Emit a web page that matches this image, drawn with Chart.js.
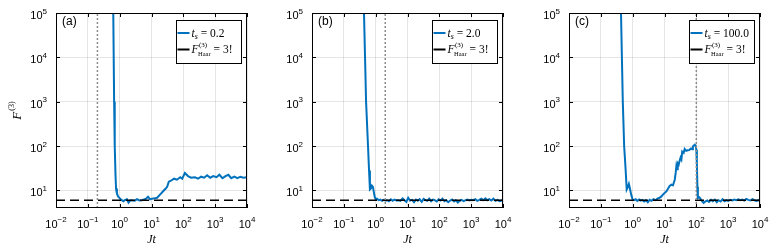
<!DOCTYPE html>
<html>
<head>
<meta charset="utf-8">
<script src="https://cdn.jsdelivr.net/npm/chart.js@4.4.0/dist/chart.umd.min.js"></script>
<style>
  body { margin: 0; background: #fff; width: 777px; height: 247px; position: relative; overflow: hidden; }
  .panel { position: absolute; top: 0; }
</style>
</head>
<body>
<canvas id="panelA" class="panel" style="left:0" width="275" height="247"></canvas>
<canvas id="panelB" class="panel" style="left:256px" width="275" height="247"></canvas>
<canvas id="panelC" class="panel" style="left:513px" width="275" height="247"></canvas>
<script>
// ---- data ----
const jtA = [0.55, 0.63, 0.67, 0.70, 0.74, 0.77, 0.82, 0.89, 1.0, 1.1,
  1.3, 1.5, 1.7, 1.9, 2.2, 2.6, 3.0, 3.5, 4.2, 5.0,
  5.8, 6.7, 7.8, 9.0, 10.5, 12.5, 15, 18.5, 24, 28,
  31, 35, 41, 51, 63, 80, 92, 112, 140, 175,
  230, 290, 360, 450, 560, 700, 870, 1100, 1350, 1700,
  2100, 2600, 3200, 4000, 5000, 6200, 7700, 10000];
const fA = [1e7, 1e5, 1e3, 100, 22, 11, 8.5, 7.3, 6.7, 6.2,
  5.7, 6.1, 6.3, 5.3, 6.0, 5.9, 5.85, 6.3, 5.9, 6.0,
  6.2, 6.5, 7.2, 6.3, 6.5, 6.6, 6.8, 8.0, 9.8, 11,
  12, 15.7, 16.5, 18.3, 17.4, 19.8, 18.3, 24.6, 21, 19.3,
  19.8, 18.3, 20.3, 19.3, 22, 19.3, 21, 19.8, 22.5, 18.8,
  21, 22.5, 18.8, 20.3, 18.8, 20.3, 19.3, 19.8];

const jtB = [0.38, 0.43, 0.5, 0.575, 0.62, 0.66, 0.71, 0.76, 0.82, 0.88,
  0.94, 1.0, 1.1, 1.25, 1.4, 1.6, 1.8, 2.0, 2.3, 2.6,
  3.0, 3.4, 3.9, 4.5, 5.2, 6.0, 7.0, 8.0, 9.2, 10.5,
  12, 14, 16, 18.5, 21, 24, 28, 32, 37, 42,
  48, 55, 63, 72, 83, 95, 110, 125, 145, 165,
  190, 220, 250, 290, 330, 380, 440, 500, 580, 670,
  770, 880, 1000, 1150, 1350, 1550, 1800, 2100, 2400, 2800,
  3200, 3700, 4300, 5000, 5800, 6700, 7800, 9000, 10000];
const fB = [1e7, 1e5, 1e3, 100, 28, 10.5, 11, 12.8, 12, 9,
  7, 6.3, 6.5, 6.0, 6.2, 5.8, 6.1, 5.9, 6.0, 5.7,
  6.3, 5.8, 6.2, 5.9, 6.0, 5.8, 6.6, 6.0, 5.5, 6.8,
  5.9, 6.1, 5.4, 6.2, 5.8, 6.3, 5.5, 6.4, 6.0, 5.8,
  6.5, 5.7, 6.2, 6.0, 5.6, 6.3, 5.9, 6.5, 5.7, 6.0,
  5.4, 5.9, 6.2, 5.6, 6.0, 5.3, 5.8, 6.1, 5.7, 6.0,
  6.2, 5.9, 6.1, 6.0, 6.3, 5.8, 6.1, 6.5, 6.0, 6.6,
  6.0, 6.3, 5.9, 6.5, 5.8, 6.1, 5.7, 5.9, 6.2];

const jtC = [0.38, 0.43, 0.49, 0.54, 0.6, 0.65, 0.71, 0.76, 0.82, 0.9,
  1.0, 1.1, 1.25, 1.4, 1.6, 1.8, 2.0, 2.3, 2.6, 3.0,
  3.4, 3.9, 4.5, 5.2, 6.0, 7.0, 8.0, 9.2, 10.5, 11.6,
  13, 14.5, 16.5, 18.5, 21, 22.5, 23.6, 25, 26, 28,
  29.5, 32, 34, 36, 40, 43, 48, 54, 61, 68,
  74, 78, 89, 96, 100, 104, 108, 112, 125, 140,
  155, 170, 190, 220, 250, 290, 330, 380, 440, 500,
  580, 670, 770, 880, 1000, 1150, 1350, 1550, 1800, 2100,
  2400, 2800, 3200, 3700, 4300, 5000, 5800, 6700, 7800, 9000,
  10000];
const fC = [1e7, 1e5, 1e3, 100, 30, 10.5, 12, 13.9, 11, 8,
  6.2, 6.0, 6.3, 5.8, 6.2, 5.9, 6.1, 5.6, 6.0, 5.4,
  6.1, 5.8, 6.3, 6.0, 6.5, 6.8, 7.3, 8.2, 9.0, 9.6,
  11, 12.5, 13.4, 13, 17.4, 25, 35, 30, 41, 38,
  45, 55, 50, 75, 70, 86, 78, 80, 82, 88,
  85, 98, 107, 100, 82, 40, 12, 6.7, 7, 6.2,
  5.6, 5.2, 5.6, 5.9, 5.5, 6.1, 5.7, 6.2, 5.4, 6.0,
  5.6, 6.3, 5.7, 6.0, 5.8, 6.1, 5.9, 6.2, 6.0, 6.3,
  6.0, 6.2, 5.9, 6.4, 6.1, 5.9, 6.3, 6.0, 5.8, 6.0,
  5.7];

const tsValues = [0.2, 2.0, 100.0];
const tsLabels = ['0.2', '2.0', '100.0'];
const panelLabels = ['(a)', '(b)', '(c)'];
const haarValue = 6; // 3!

const xTickValues = [1e-2, 1e-1, 1, 1e1, 1e2, 1e3, 1e4];
const xTickExps = ['\u22122', '\u22121', '0', '1', '2', '3', '4'];
const yTickValues = [1e1, 1e2, 1e3, 1e4, 1e5];
const yTickExps = ['1', '2', '3', '4', '5'];
const tickBase = '10';

const xTitle = ['J', 't'];
const yTitle = ['F', '(3)'];
const legendTs = ['t', 's', ' = '];
const legendHaar = ['F', '(3)', 'Haar', ' = 3!'];

const X_MIN = 1e-2, X_MAX = 1e4, Y_MIN = 4, Y_MAX = 1e5;
const BLUE = 'rgb(0, 114, 189)';
const SANS = '"Liberation Sans", Arial, sans-serif';
const SERIF = '"Liberation Serif", "Times New Roman", serif';
const CANVAS_W = 275;

// "10" with a raised exponent, anchored centre or right
function drawPower(ctx, exp, anchorX, baseline, align) {
    ctx.font = '11px ' + SANS;
    const wb = ctx.measureText(tickBase).width;
    ctx.font = '8px ' + SANS;
    const we = ctx.measureText(exp).width;
    const x0 = align === 'center' ? anchorX - (wb + we) / 2 : anchorX - wb - we;
    ctx.font = '11px ' + SANS;
    ctx.fillText(tickBase, x0, baseline);
    ctx.font = '8px ' + SANS;
    ctx.fillText(exp, x0 + wb, baseline - 5.5);
}

function hline(ctx, x1, x2, y) {
    ctx.beginPath();
    ctx.moveTo(x1, y);
    ctx.lineTo(x2, y);
    ctx.stroke();
}

function drawLegend(ctx, a, tsText) {
    const bw = 65, bh = 43;
    const bx = Math.round(a.right - 6 - bw) + 0.5;
    const by = Math.round(a.top + 7) + 0.5;
    ctx.fillStyle = '#fff';
    ctx.fillRect(bx, by, bw, bh);
    ctx.strokeStyle = '#000';
    ctx.lineWidth = 1;
    ctx.strokeRect(bx, by, bw, bh);

    // line samples
    ctx.lineWidth = 2;
    ctx.strokeStyle = BLUE;
    hline(ctx, bx + 1, bx + 13, by + 12.5);
    ctx.strokeStyle = '#000';
    hline(ctx, bx + 1, bx + 13, by + 29);

    ctx.fillStyle = '#000';
    ctx.textAlign = 'left';
    ctx.textBaseline = 'alphabetic';

    // t_s = value
    let tx = bx + 15;
    let base = by + 16;
    ctx.font = 'italic 11.5px ' + SERIF;
    ctx.fillText(legendTs[0], tx, base);
    tx += ctx.measureText(legendTs[0]).width;
    ctx.font = 'italic 8px ' + SERIF;
    ctx.fillText(legendTs[1], tx, base + 2.5);
    tx += ctx.measureText(legendTs[1]).width;
    ctx.font = '11.5px ' + SERIF;
    ctx.fillText(legendTs[2] + tsText, tx, base);

    // F^(3)_Haar = 3!
    tx = bx + 15;
    base = by + 32.5;
    ctx.font = 'italic 11.5px ' + SERIF;
    ctx.fillText(legendHaar[0], tx, base);
    tx += ctx.measureText(legendHaar[0]).width + 0.5;
    ctx.font = '7px ' + SERIF;
    ctx.fillText(legendHaar[1], tx, base - 6.5);
    const wSup = ctx.measureText(legendHaar[1]).width;
    ctx.font = '6.5px ' + SERIF;
    ctx.fillText(legendHaar[2], tx - 1, base + 3);
    const wSub = ctx.measureText(legendHaar[2]).width - 1;
    tx += Math.max(wSup, wSub);
    ctx.font = '11.5px ' + SERIF;
    ctx.fillText(legendHaar[3], tx, base);
}

const decorPlugin = {
    id: 'decor',
    afterDatasetsDraw(chart) {
        const { ctx, chartArea: a, scales: { x, y } } = chart;
        ctx.save();
        // frame box
        ctx.strokeStyle = '#000';
        ctx.lineWidth = 1;
        ctx.strokeRect(Math.round(a.left) + 0.5, Math.round(a.top) + 0.5,
            Math.round(a.right - a.left) - 1, Math.round(a.bottom - a.top) - 1);
        // inward ticks on all four sides
        ctx.beginPath();
        xTickValues.forEach(v => {
            const px = Math.round(x.getPixelForValue(v)) + 0.5;
            ctx.moveTo(px, a.bottom); ctx.lineTo(px, a.bottom - 4);
            ctx.moveTo(px, a.top); ctx.lineTo(px, a.top + 4);
        });
        yTickValues.forEach(v => {
            const py = Math.round(y.getPixelForValue(v)) + 0.5;
            ctx.moveTo(a.left, py); ctx.lineTo(a.left + 4, py);
            ctx.moveTo(a.right, py); ctx.lineTo(a.right - 4, py);
        });
        ctx.stroke();
        ctx.restore();
    },
    afterDraw(chart, args, opts) {
        const { ctx, chartArea: a, scales: { x, y } } = chart;
        ctx.save();
        ctx.fillStyle = '#000';
        ctx.textAlign = 'left';
        ctx.textBaseline = 'alphabetic';

        // tick labels
        xTickValues.forEach((v, i) => {
            drawPower(ctx, xTickExps[i], x.getPixelForValue(v), a.bottom + 19.5, 'center');
        });
        yTickValues.forEach((v, i) => {
            drawPower(ctx, yTickExps[i], a.left - 9, y.getPixelForValue(v) + 6, 'right');
        });

        // x title "Jt"
        ctx.font = 'italic 12px ' + SERIF;
        const wJt = ctx.measureText(xTitle.join('')).width;
        ctx.fillText(xTitle.join(''), (a.left + a.right) / 2 - wJt / 2, a.bottom + 35);

        // y title F^(3), only on the first panel
        if (opts.yTitle) {
            ctx.save();
            ctx.translate(20.5, (a.top + a.bottom) / 2);
            ctx.rotate(-Math.PI / 2);
            ctx.font = 'italic 13px ' + SERIF;
            const wF = ctx.measureText(yTitle[0]).width;
            ctx.font = '8px ' + SERIF;
            const w3 = ctx.measureText(yTitle[1]).width;
            const x0 = -(wF + w3 + 1) / 2;
            ctx.font = 'italic 13px ' + SERIF;
            ctx.fillText(yTitle[0], x0, 0);
            ctx.font = '8px ' + SERIF;
            ctx.fillText(yTitle[1], x0 + wF + 1, -6.5);
            ctx.restore();
        }

        // panel letter
        ctx.font = '12px ' + SANS;
        ctx.fillText(opts.label, a.left + 6, a.top + 12);

        drawLegend(ctx, a, opts.tsText);
        ctx.restore();
    }
};

function buildPanel(canvasId, jt, values, idx) {
    const curve = jt.map((t, i) => ({ x: t, y: values[i] }));
    const ts = tsValues[idx];
    new Chart(document.getElementById(canvasId), {
        type: 'line',
        data: {
            datasets: [
                {
                    data: curve,
                    borderColor: BLUE,
                    borderWidth: 2,
                    pointRadius: 0,
                    tension: 0,
                    order: 3,
                    clip: 0
                },
                {
                    data: [{ x: X_MIN, y: haarValue }, { x: X_MAX, y: haarValue }],
                    borderColor: '#000',
                    borderWidth: 1.5,
                    borderDash: [9, 5],
                    pointRadius: 0,
                    order: 2,
                    clip: 0
                },
                {
                    data: [{ x: ts, y: Y_MIN }, { x: ts, y: Y_MAX }],
                    borderColor: '#8c8c8c',
                    borderWidth: 1.5,
                    borderDash: [2, 2],
                    pointRadius: 0,
                    order: 1,
                    clip: 0
                }
            ]
        },
        options: {
            responsive: false,
            animation: false,
            events: [],
            layout: { padding: { top: 13, right: CANVAS_W - 247, left: 0, bottom: 0 } },
            plugins: {
                legend: { display: false },
                tooltip: { enabled: false },
                decor: { label: panelLabels[idx], tsText: tsLabels[idx], yTitle: idx === 0 }
            },
            scales: {
                x: {
                    type: 'logarithmic',
                    min: X_MIN,
                    max: X_MAX,
                    afterBuildTicks: s => { s.ticks = xTickValues.map(v => ({ value: v })); },
                    afterFit: s => { s.height = 39; },
                    ticks: { display: false },
                    grid: { color: 'rgba(0,0,0,0.1)', drawTicks: false },
                    border: { display: false }
                },
                y: {
                    type: 'logarithmic',
                    min: Y_MIN,
                    max: Y_MAX,
                    afterBuildTicks: s => { s.ticks = yTickValues.map(v => ({ value: v })); },
                    afterFit: s => { s.width = 56; },
                    ticks: { display: false },
                    grid: { color: 'rgba(0,0,0,0.1)', drawTicks: false },
                    border: { display: false }
                }
            }
        },
        plugins: [decorPlugin]
    });
}

buildPanel('panelA', jtA, fA, 0);
buildPanel('panelB', jtB, fB, 1);
buildPanel('panelC', jtC, fC, 2);
</script>
</body>
</html>
